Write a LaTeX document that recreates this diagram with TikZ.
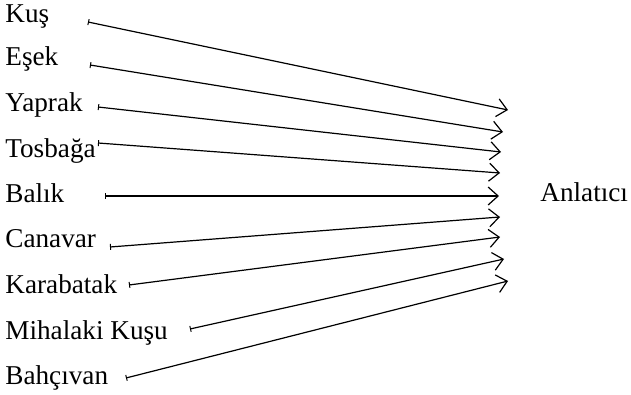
\documentclass[tikz,border=0pt]{standalone}
\usepackage{fontspec}
\setmainfont{Liberation Serif}
\usetikzlibrary{arrows.meta}
\tikzset{
	lbl/.style={anchor=base west, inner sep=0pt, font=\fontsize{13.6}{16}\selectfont},
	arr/.style={line width=0.6pt, {Bar[width=3pt,line width=0.5pt]}-{Straight Barb[length=5pt,width=9pt,line width=0.6pt]}}
}
\begin{document}
\begin{tikzpicture}[x=0.5pt, y=-0.5pt, line join=round, line cap=round]
	\useasboundingbox (0,0) rectangle (631,395);
	
	\node[lbl] (kus) at (5,23) {Kuş};
	\node[lbl] (esek) at (5,66) {Eşek};
	\node[lbl] (yaprak) at (5,112) {Yaprak};
	\node[lbl] (tosbaga) at (5,158) {Tosbağa};
	\node[lbl] (balik) at (5,203) {Balık};
	\node[lbl] (canavar) at (5,248) {Canavar};
	\node[lbl] (karabatak) at (5,293) {Karabatak};
	\node[lbl] (mihalaki) at (5,339) {Mihalaki Kuşu};
	\node[lbl] (bahcivan) at (5,384) {Bahçıvan};
	\node[lbl] (anlatici) at (540,202) {Anlatıcı};
	
	% tails
	\coordinate (kus-t) at (88,22);
	\coordinate (esek-t) at (90,65);
	\coordinate (yaprak-t) at (98,107);
	\coordinate (tosbaga-t) at (98,143);
	\coordinate (balik-t) at (105,196);
	\coordinate (canavar-t) at (110,247);
	\coordinate (karabatak-t) at (129,285);
	\coordinate (mihalaki-t) at (190,329);
	\coordinate (bahcivan-t) at (126,378);
	
	% heads
	\coordinate (kus-h) at (508,110);
	\coordinate (esek-h) at (503,132);
	\coordinate (yaprak-h) at (501,152);
	\coordinate (tosbaga-h) at (500,173);
	\coordinate (balik-h) at (499,196);
	\coordinate (canavar-h) at (500,217);
	\coordinate (karabatak-h) at (500,237);
	\coordinate (mihalaki-h) at (504,259);
	\coordinate (bahcivan-h) at (508,281);
	
	\draw[arr] (kus-t) -- (kus-h);
	\draw[arr] (esek-t) -- (esek-h);
	\draw[arr] (yaprak-t) -- (yaprak-h);
	\draw[arr] (tosbaga-t) -- (tosbaga-h);
	\draw[arr] (balik-t) -- (balik-h);
	\draw[arr] (canavar-t) -- (canavar-h);
	\draw[arr] (karabatak-t) -- (karabatak-h);
	\draw[arr] (mihalaki-t) -- (mihalaki-h);
	\draw[arr] (bahcivan-t) -- (bahcivan-h);
\end{tikzpicture}
\end{document}
